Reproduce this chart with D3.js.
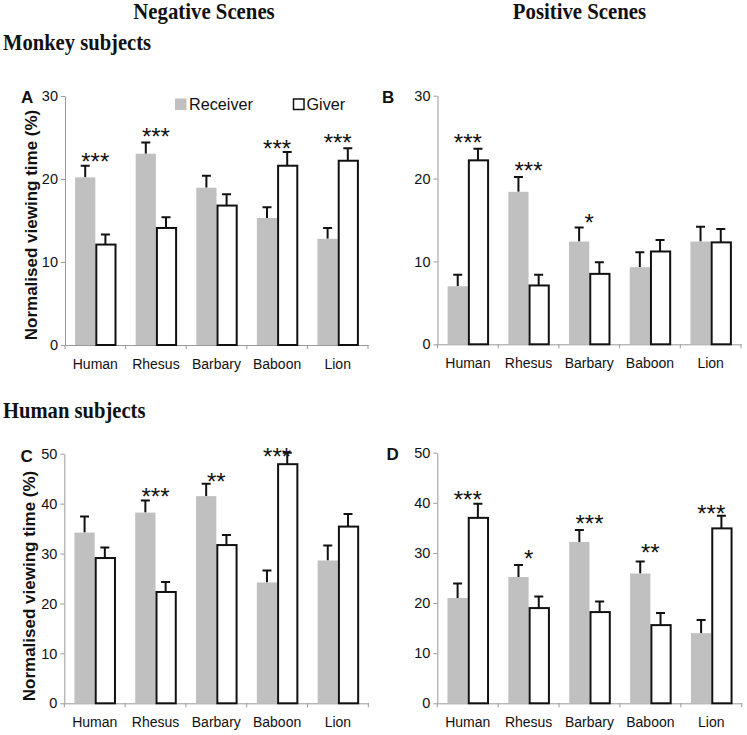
<!DOCTYPE html>
<html>
<head>
<meta charset="utf-8">
<script src="https://cdn.jsdelivr.net/npm/d3@7/dist/d3.min.js"></script>
<style>
  html, body { margin: 0; padding: 0; background: #fff; }
  svg { display: block; }
</style>
</head>
<body>
<svg id="chart" width="747" height="735"></svg>
<script>
// ---------------- DATA ----------------
const categories = ["Human", "Rhesus", "Barbary", "Baboon", "Lion"];
const seriesNames = ["Receiver", "Giver"];

// Panel A: Monkey subjects, Negative scenes
const aReceiver = [20.2, 23.05, 18.95, 15.3, 12.8];
const aReceiverErr = [21.6, 24.4, 20.4, 16.6, 14.1];
const aGiver = [12.1, 14.1, 16.8, 21.6, 22.2];
const aGiverErr = [13.3, 15.4, 18.15, 23.25, 23.7];
const aStars = ["***", "***", "", "***", "***"];
const aStarLevel = [22.7, 25.7, null, 24.3, 25.0];

// Panel B: Monkey subjects, Positive scenes
const bReceiver = [7.0, 18.4, 12.4, 9.3, 12.4];
const bReceiverErr = [8.4, 20.2, 14.1, 11.1, 14.2];
const bGiver = [22.2, 7.1, 8.5, 11.2, 12.3];
const bGiverErr = [23.6, 8.4, 9.9, 12.6, 13.9];
const bStars = ["***", "***", "*", "", ""];
const bStarLevel = [25.0, 21.6, 15.3, null, null];

// Panel C: Human subjects, Negative scenes
const cReceiver = [34.2, 38.2, 41.5, 24.2, 28.6];
const cReceiverErr = [37.4, 40.6, 44.0, 26.6, 31.6];
const cGiver = [29.1, 22.3, 31.7, 47.9, 35.4];
const cGiverErr = [31.2, 24.3, 33.7, 50.2, 37.9];
const cStars = ["", "***", "**", "***", ""];
const cStarLevel = [null, 42.5, 45.4, 50.4, null];

// Panel D: Human subjects, Positive scenes
const dReceiver = [21.0, 25.2, 32.2, 25.9, 14.0];
const dReceiverErr = [23.9, 27.6, 34.6, 28.3, 16.6];
const dGiver = [37.0, 19.0, 18.2, 15.6, 34.9];
const dGiverErr = [39.8, 21.3, 20.3, 18.0, 37.4];
const dStars = ["***", "*", "***", "**", "***"];
const dStarLevel = [41.6, 29.9, 36.9, 31.2, 39.0];

const ticksAB = [0, 10, 20, 30];
const ticksCD = [0, 10, 20, 30, 40, 50];

const columnTitles = ["Negative Scenes", "Positive Scenes"];
const rowTitles = ["Monkey subjects", "Human subjects"];
const panelLetters = ["A", "B", "C", "D"];
const yLabel = "Normalised viewing time (%)";

// ---------------- LAYOUT ----------------
const svg = d3.select("#chart");
const SANS = "'Liberation Sans', Arial, Helvetica, sans-serif";
const SERIF = "'Liberation Serif', 'Times New Roman', serif";
const GRAY = "#c0c0c0";
const AXIS = "#9a9a9a";
const TEXT = "#111";

const panels = [
  { letter: panelLetters[0], x0: 65, x1: 368, yTop: 96, yBot: 345, max: 30, ticks: ticksAB,
    rec: aReceiver, recErr: aReceiverErr, giv: aGiver, givErr: aGiverErr, stars: aStars, starLevel: aStarLevel,
    yLab: { x: 31.5, y: 225, size: 17 }, letterPos: { x: 21, y: 103 }, legend: true },
  { letter: panelLetters[1], x0: 437.5, x1: 741, yTop: 95.7, yBot: 344.3, max: 30, ticks: ticksAB,
    rec: bReceiver, recErr: bReceiverErr, giv: bGiver, givErr: bGiverErr, stars: bStars, starLevel: bStarLevel,
    yLab: null, letterPos: { x: 382, y: 103 } },
  { letter: panelLetters[2], x0: 64.3, x1: 368.3, yTop: 453.7, yBot: 703.3, max: 50, ticks: ticksCD,
    rec: cReceiver, recErr: cReceiverErr, giv: cGiver, givErr: cGiverErr, stars: cStars, starLevel: cStarLevel,
    yLab: { x: 29, y: 586, size: 17 }, letterPos: { x: 20.5, y: 461.5 } },
  { letter: panelLetters[3], x0: 437.3, x1: 741.7, yTop: 452.7, yBot: 703.3, max: 50, ticks: ticksCD,
    rec: dReceiver, recErr: dReceiverErr, giv: dGiver, givErr: dGiverErr, stars: dStars, starLevel: dStarLevel,
    yLab: null, letterPos: { x: 386.5, y: 460 } }
];

// Titles
const colCenters = [204, 579.5];
columnTitles.forEach((t, i) => {
  svg.append("text")
    .attr("transform", `translate(${colCenters[i]},18.5) scale(1,1.08)`)
    .attr("text-anchor", "middle")
    .attr("font-family", SERIF).attr("font-weight", "bold").attr("font-size", 20.8)
    .attr("fill", TEXT).text(t);
});
const rowBaselines = [50, 418];
rowTitles.forEach((t, i) => {
  svg.append("text")
    .attr("transform", `translate(3,${rowBaselines[i]}) scale(1,1.1)`)
    .attr("font-family", SERIF).attr("font-weight", "bold").attr("font-size", 20.6)
    .attr("fill", TEXT).text(t);
});

panels.forEach(p => {
  const g = svg.append("g");
  const x = d3.scaleBand().domain(categories).range([p.x0, p.x1]).padding(0);
  const bw = x.bandwidth();
  const x1 = d3.scaleBand().domain(seriesNames).range([bw / 6, bw * 5 / 6]).padding(0);
  const y = d3.scaleLinear().domain([0, p.max]).range([p.yBot, p.yTop]);

  // y axis
  const yAxis = d3.axisLeft(y).tickValues(p.ticks).tickSize(4).tickSizeOuter(0).tickPadding(3);
  const ya = g.append("g").attr("transform", `translate(${p.x0},0)`).call(yAxis);
  ya.select(".domain").attr("stroke", AXIS).attr("stroke-width", 1);
  ya.selectAll(".tick line").attr("stroke", AXIS);
  ya.selectAll(".tick text").attr("font-family", SANS).attr("font-size", 14.5).attr("fill", TEXT);

  // x axis
  const xAxis = d3.axisBottom(x).tickSize(0).tickPadding(14).tickSizeOuter(0);
  const xa = g.append("g").attr("transform", `translate(0,${p.yBot})`).call(xAxis);
  xa.select(".domain").attr("stroke", AXIS).attr("stroke-width", 1);
  xa.selectAll(".tick text").attr("font-family", SANS).attr("font-size", 14).attr("fill", TEXT);
  // boundary tick marks
  const bounds = categories.map(c => x(c)).concat([x(categories[categories.length - 1]) + bw]);
  g.selectAll(".bt").data(bounds).enter().append("line")
    .attr("x1", d => d).attr("x2", d => d)
    .attr("y1", p.yBot).attr("y2", p.yBot + 4)
    .attr("stroke", AXIS);

  // rows
  const rows = categories.map((c, i) => ({
    cat: c,
    vals: [
      { s: "Receiver", v: p.rec[i], e: p.recErr[i] },
      { s: "Giver", v: p.giv[i], e: p.givErr[i] }
    ],
    star: p.stars[i], level: p.starLevel[i]
  }));

  const grp = g.selectAll(".grp").data(rows).enter().append("g")
    .attr("transform", d => `translate(${x(d.cat)},0)`);

  // error bars (drawn beneath bars)
  grp.selectAll(".err").data(d => d.vals).enter().append("path")
    .attr("d", d => {
      const cx = x1(d.s) + x1.bandwidth() / 2;
      return `M${cx},${y(d.v)}V${y(d.e)}M${cx - 4.5},${y(d.e)}H${cx + 4.5}`;
    })
    .attr("stroke", "#111").attr("stroke-width", 2).attr("fill", "none");

  grp.selectAll(".bar").data(d => d.vals).enter().append("rect")
    .attr("x", d => x1(d.s) + (d.s === "Giver" ? 1 : 0))
    .attr("width", d => x1.bandwidth() - (d.s === "Giver" ? 1 : 0))
    .attr("y", d => y(d.v))
    .attr("height", d => y(0) - y(d.v))
    .attr("fill", d => d.s === "Receiver" ? GRAY : "#fff")
    .attr("stroke", d => d.s === "Receiver" ? "none" : "#111")
    .attr("stroke-width", 2);

  // stars
  const fs = 24;
  grp.filter(d => d.star).append("text")
    .attr("x", bw / 2)
    .attr("y", d => y(d.level) + 0.57 * fs)
    .attr("text-anchor", "middle")
    .attr("font-family", SANS).attr("font-size", fs).attr("fill", TEXT)
    .text(d => d.star);

  // panel letter
  g.append("text")
    .attr("x", p.letterPos.x).attr("y", p.letterPos.y)
    .attr("font-family", SANS).attr("font-weight", "bold").attr("font-size", 17)
    .attr("fill", TEXT).text(p.letter);

  // y label
  if (p.yLab) {
    g.append("text")
      .attr("transform", `translate(${p.yLab.x},${p.yLab.y}) rotate(-90)`)
      .attr("text-anchor", "middle").attr("dominant-baseline", "central")
      .attr("font-family", SANS).attr("font-weight", "bold").attr("font-size", p.yLab.size)
      .attr("fill", TEXT).text(yLabel);
  }

  // legend
  if (p.legend) {
    const lg = g.append("g");
    lg.append("rect").attr("x", 175).attr("y", 98.5).attr("width", 11.5).attr("height", 11.5).attr("fill", GRAY);
    lg.append("text").attr("x", 189).attr("y", 110).attr("font-family", SANS).attr("font-size", 16.2)
      .attr("fill", TEXT).text(seriesNames[0]);
    lg.append("rect").attr("x", 293.5).attr("y", 99).attr("width", 10.5).attr("height", 10.5)
      .attr("fill", "#fff").attr("stroke", "#111").attr("stroke-width", 1.5);
    lg.append("text").attr("x", 306.5).attr("y", 110).attr("font-family", SANS).attr("font-size", 16.2)
      .attr("fill", TEXT).text(seriesNames[1]);
  }
});
</script>
</body>
</html>
